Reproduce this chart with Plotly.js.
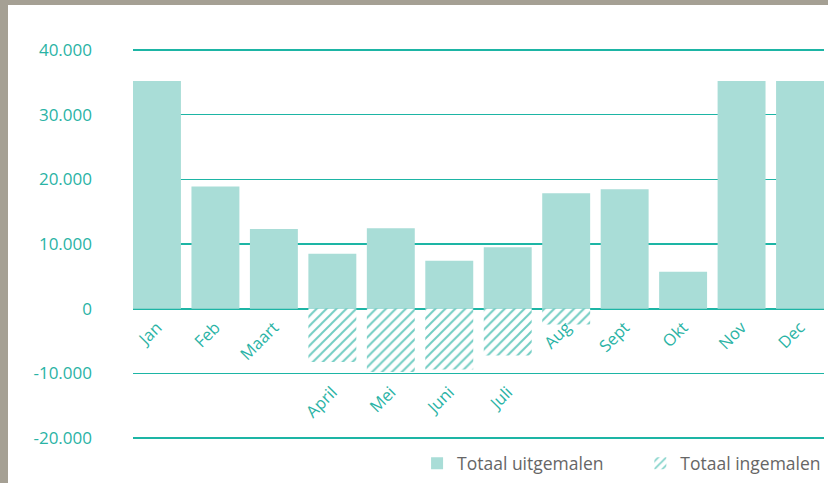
<!DOCTYPE html>
<html>
<head>
<meta charset="utf-8">
<script src="https://cdn.plot.ly/plotly-3.0.1.min.js"></script>
<style>
html,body{margin:0;padding:0;background:#a5a094;width:828px;height:483px;overflow:hidden;}
#wrap{position:absolute;left:8px;top:5px;width:820px;height:478px;background:#fff;}
#chart{width:820px;height:478px;}
</style>
</head>
<body>
<div id="wrap"><div id="chart"></div></div>
<script>
var months = ["Jan","Feb","Maart","April","Mei","Juni","Juli","Aug","Sept","Okt","Nov","Dec"];
var uitgemalen = [35200, 18900, 12300, 8500, 12450, 7400, 9500, 17850, 18450, 5700, 35200, 35200];
var ingemalen = [0, 0, 0, -8250, -9800, -9400, -7250, -2450, 0, 0, 0, 0];
var seriesNames = ["Totaal uitgemalen", "Totaal ingemalen"];
var yTickVals = [-20000, -10000, 0, 10000, 20000, 30000, 40000];
var yTickText = ["-20.000", "-10.000", "0", "10.000", "20.000", "30.000", "40.000"];

var teal = "#1db5a5";
var tealText = "#2ab3a5";
var yMin = -22000, yMax = 42000;
var legendGap = "\u00a0\u00a0\u00a0\u00a0\u00a0\u00a0\u00a0";

// months whose label sits below the negative bars
var lowIdx = [], upIdx = [];
months.forEach(function(m, i){ if (ingemalen[i] < -5000) lowIdx.push(i); else upIdx.push(i); });

var traces = [
  {type:"bar", name:seriesNames[0] + legendGap, x: months.map(function(m,i){return i;}), y: uitgemalen,
   marker:{color:"#a9ddd7", line:{width:0}}, hoverinfo:"x+y"},
  {type:"bar", name:seriesNames[1], x: months.map(function(m,i){return i;}), y: ingemalen,
   marker:{color:"#ffffff", line:{width:0},
     pattern:{shape:"/", fgcolor:"#72cdc3", bgcolor:"#ffffff", size:7, solidity:0.28}}, hoverinfo:"x+y"}
];

var font = "'Open Sans', sans-serif";
var xTickFont = {family:font, size:16.5, color:tealText};
var layout = {
  width:820, height:478,
  margin:{l:125, r:2, t:32, b:30},
  paper_bgcolor:"#ffffff", plot_bgcolor:"#ffffff",
  barmode:"relative", bargap:0.18,
  showlegend:true,
  legend:{orientation:"h", x:1.003, xanchor:"right", y:-0.03, yanchor:"middle",
          font:{family:font, size:17.5, color:"#666666"}, traceorder:"normal", itemwidth:30},
  xaxis:{type:"linear", range:[-0.41, 11.41], anchor:"free", position:(0 - yMin)/(yMax - yMin),
         tickmode:"array", tickvals:upIdx, ticktext:upIdx.map(function(i){return months[i];}),
         tickangle:-45, showgrid:false, zeroline:false, showline:false, ticks:"", ticklabelstandoff:5,
         tickfont:xTickFont, fixedrange:true},
  xaxis2:{type:"linear", range:[-0.41, 11.41], overlaying:"x", anchor:"free",
          position:(-10000 - yMin)/(yMax - yMin),
          tickmode:"array", tickvals:lowIdx, ticktext:lowIdx.map(function(i){return months[i];}),
          tickangle:-45, showgrid:false, zeroline:false, showline:false, ticks:"", ticklabelstandoff:5,
          tickfont:xTickFont, fixedrange:true},
  yaxis:{range:[yMin, yMax], tickmode:"array", tickvals:yTickVals, ticktext:yTickText,
         showgrid:true, gridcolor:teal, gridwidth:1.2, zeroline:true, zerolinecolor:teal, zerolinewidth:2.2,
         showline:false, ticks:"", ticklabelstandoff:40,
         tickfont:{family:font, size:17, color:tealText}, fixedrange:true}
};

// dummy trace to activate xaxis2
traces.push({type:"scatter", x:[0], y:[0], xaxis:"x2", mode:"markers", marker:{opacity:0}, showlegend:false, hoverinfo:"skip"});

Plotly.newPlot("chart", traces, layout, {displayModeBar:false, staticPlot:true});
</script>
</body>
</html>
